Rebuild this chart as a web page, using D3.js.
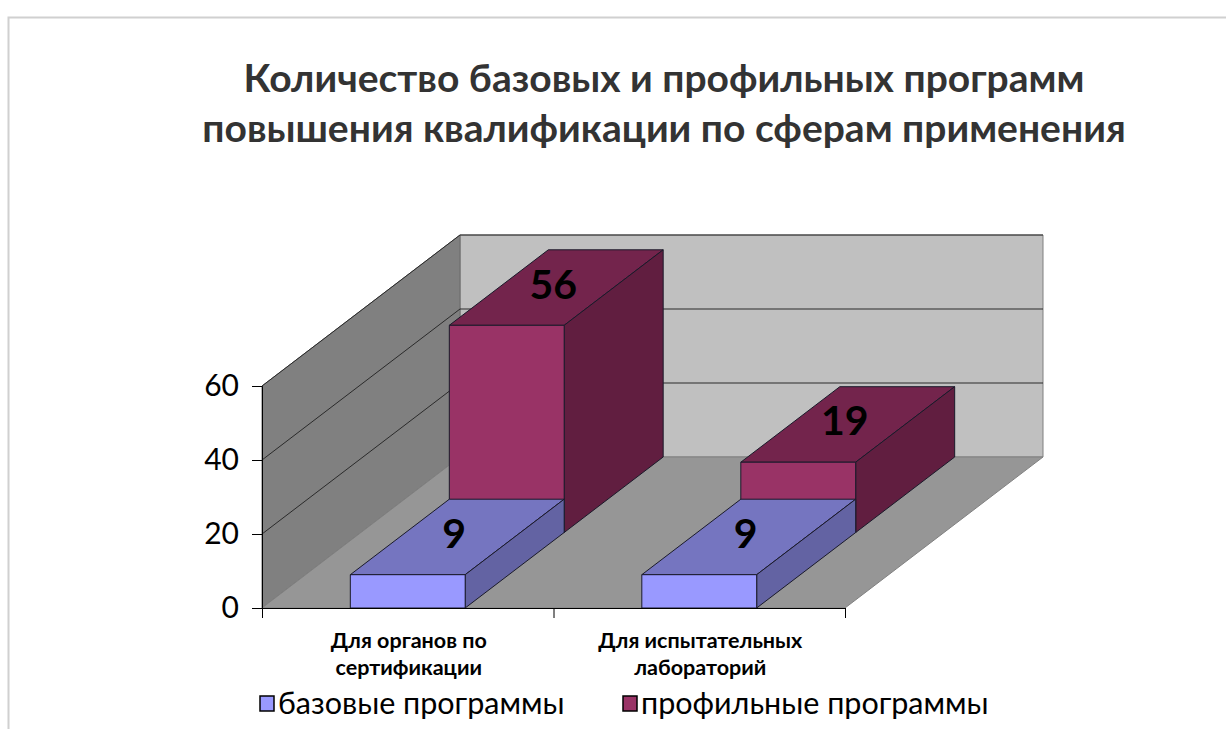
<!DOCTYPE html>
<html>
<head>
<meta charset="utf-8">
<script src="https://cdn.jsdelivr.net/npm/d3@7"></script>
<style>
  body { margin: 0; background: #fff; }
  svg { display: block; }
</style>
</head>
<body>
<svg id="chart" width="1226" height="729"></svg>
<script>
const categories = [["Для органов по", "сертификации"], ["Для испытательных", "лабораторий"]];
const seriesNames = ["базовые программы", "профильные программы"];
const baseValues = [9, 9];
const profileValues = [56, 19];
const yTicks = [0, 20, 40, 60];
const titleLines = ["Количество базовых и профильных программ", "повышения квалификации по сферам применения"];

// colours: front, top, side
const palette = [
  { front: "#9999ff", top: "#7575c0", side: "#6363a3" },
  { front: "#993366", top: "#73244c", side: "#611e40" }
];

const svg = d3.select("#chart");
const font = "Lato, 'Open Sans', sans-serif";

// frame
svg.append("path")
  .attr("d", "M8.5,729 L8.5,17.5 L1226,17.5")
  .attr("fill", "none").attr("stroke", "#d0d0d0").attr("stroke-width", 2);

// title
svg.append("g").selectAll("text")
  .data(titleLines).enter().append("text")
  .attr("x", 664).attr("y", (d, i) => 92 + i * 50)
  .attr("text-anchor", "middle")
  .style("font-family", font).style("font-weight", "bold").style("font-size", "39px")
  .style("fill", "#333")
  .text(d => d);

// 3d geometry
const y0 = 608;
const left = 262, right = 845;
const dx = 99, dy = -75.5;   // offset per depth row
const rows = 2;

const y = d3.scaleLinear().domain([0, 60]).range([y0, y0 - 222]);
const x = d3.scaleBand().domain(d3.range(categories.length)).range([left, right]);
const barW = x.bandwidth() * 0.394;

const P = (px, d, v) => [px + d * dx, y(v) + d * dy];
const poly = pts => "M" + pts.map(p => p.join(",")).join("L") + "Z";

const walls = svg.append("g");
// back wall
walls.append("path")
  .attr("d", poly([P(left, rows, 0), P(right, rows, 0), P(right, rows, 60), P(left, rows, 60)]))
  .attr("fill", "#c0c0c0").attr("stroke", "#808080").attr("stroke-width", 1);
// side wall
walls.append("path")
  .attr("d", poly([P(left, 0, 0), P(left, rows, 0), P(left, rows, 60), P(left, 0, 60)]))
  .attr("fill", "#808080").attr("stroke", "#6a6a6a").attr("stroke-width", 1);
// floor
walls.append("path")
  .attr("d", poly([P(left, 0, 0), P(right, 0, 0), P(right, rows, 0), P(left, rows, 0)]))
  .attr("fill", "#969696").attr("stroke", "#808080").attr("stroke-width", 1);

// gridlines
const grid = walls.append("g").attr("stroke", "#2a2a2a").attr("stroke-width", 1).attr("fill", "none");
yTicks.filter(v => v > 0).forEach(v => {
  grid.append("path").attr("d", "M" + P(left, 0, v) + "L" + P(left, rows, v) + "L" + P(right, rows, v));
});

// bars: back row first
function drawBox(g, c, d, v, col) {
  const x1 = x(c) + (x.bandwidth() - barW) / 2, x2 = x1 + barW;
  const faces = [
    { k: "top", pts: [P(x1, d, v), P(x2, d, v), P(x2, d + 1, v), P(x1, d + 1, v)] },
    { k: "side", pts: [P(x2, d, 0), P(x2, d + 1, 0), P(x2, d + 1, v), P(x2, d, v)] },
    { k: "front", pts: [P(x1, d, 0), P(x2, d, 0), P(x2, d, v), P(x1, d, v)] }
  ];
  g.selectAll(null).data(faces).enter().append("path")
    .attr("d", f => poly(f.pts))
    .attr("fill", f => col[f.k])
    .attr("stroke", "#1a1a2a").attr("stroke-width", 1).attr("stroke-linejoin", "round");
}

const seriesData = [baseValues, profileValues];
const bars = svg.append("g");
[1, 0].forEach(s => {
  seriesData[s].forEach((v, c) => drawBox(bars.append("g"), c, s, v, palette[s]));
});

// value labels on top faces
const labels = [];
seriesData.forEach((vals, s) => vals.forEach((v, c) => {
  const cx = x(c) + x.bandwidth() / 2;
  const p = P(cx, s + 0.5, v);
  labels.push({ v, x: p[0] - 3, y: p[1] + 11 });
}));
svg.append("g").selectAll("text").data(labels).enter().append("text")
  .attr("x", d => d.x).attr("y", d => d.y)
  .attr("text-anchor", "middle")
  .style("font-family", font).style("font-weight", "bold").style("font-size", "41px")
  .style("fill", "#000")
  .text(d => d.v);

// y axis
const yAxis = svg.append("g").attr("transform", `translate(${left},0)`)
  .call(d3.axisLeft(y).tickValues(yTicks).tickSize(10).tickPadding(13));
yAxis.select(".domain").attr("stroke", "#000");
yAxis.selectAll("line").attr("stroke", "#000");
yAxis.selectAll("text").style("font-family", font).style("font-size", "30px").style("fill", "#000");

// category axis
const xb = d3.scaleLinear().domain([0, categories.length]).range([left, right]);
const xAxis = svg.append("g").attr("transform", `translate(0,${y0})`)
  .call(d3.axisBottom(xb).tickValues(d3.range(categories.length + 1)).tickSize(10).tickFormat(""));
xAxis.select(".domain").attr("stroke", "#000").attr("d", `M${left},0.5H${right}`);
xAxis.selectAll("line").attr("stroke", "#000");

const catG = svg.append("g");
categories.forEach((lines, c) => {
  catG.append("g").selectAll("text").data(lines).enter().append("text")
    .attr("x", x(c) + x.bandwidth() / 2 + 1)
    .attr("y", (d, i) => 648 + i * 27)
    .attr("text-anchor", "middle")
    .style("font-family", font).style("font-weight", "bold").style("font-size", "21.5px")
    .style("fill", "#000")
    .text(d => d);
});

// legend
const legendX = [260, 623];
const legend = svg.append("g");
seriesNames.forEach((name, s) => {
  legend.append("rect")
    .attr("x", legendX[s]).attr("y", 696).attr("width", 14).attr("height", 15)
    .attr("fill", palette[s].front).attr("stroke", "#000").attr("stroke-width", 1.5);
  legend.append("text")
    .attr("x", legendX[s] + 18).attr("y", 714)
    .style("font-family", font).style("font-size", "30.5px").style("fill", "#000")
    .text(name);
});
</script>
</body>
</html>
